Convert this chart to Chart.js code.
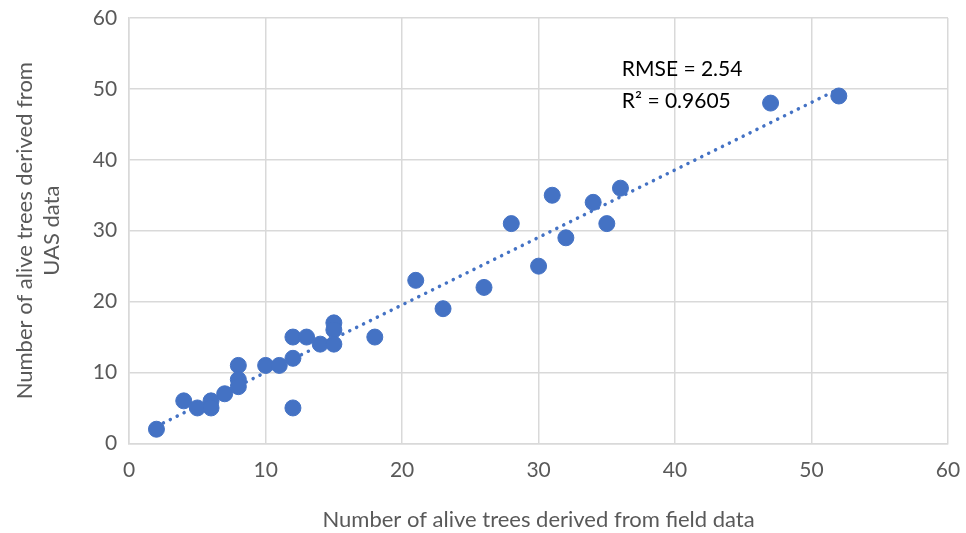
<!DOCTYPE html>
<html>
<head>
<meta charset="utf-8">
<script src="https://cdn.jsdelivr.net/npm/chart.js@4.4.1/dist/chart.umd.min.js"></script>
<style>
  html, body { margin: 0; padding: 0; background: #fff; }
  #wrap { width: 966px; height: 533px; }
</style>
</head>
<body>
<div id="wrap"><canvas id="myChart" width="966" height="533"></canvas></div>
<script>
// field counts (x) vs UAS counts (y)
const fieldCounts = [2, 4, 5, 6, 6, 7, 8, 8, 8, 10, 11, 12, 12, 12, 13, 14, 15, 15, 15, 18, 21, 23, 26, 28, 30, 31, 32, 34, 35, 36, 47, 52];
const uasCounts   = [2, 6, 5, 6, 5, 7, 11, 9, 8, 11, 11, 15, 12, 5, 15, 14, 17, 16, 14, 15, 23, 19, 22, 31, 25, 35, 29, 34, 31, 36, 48, 49];

// trendline end points
const trendX = [2, 52];
const trendY = [2.4, 50];

const statsLines = ["RMSE = 2.54", "R\u00B2 = 0.9605"];
const statsPos = { x: 36.1, y: [52.8, 48.3] };

const axisTicks = [0, 10, 20, 30, 40, 50, 60];

const blue = "#4472C4";
const fontFam = "Lato, 'Open Sans', sans-serif";

// 텍스트 주석 플러그인
const statsText = {
  id: "statsText",
  afterDatasetsDraw(chart) {
    const { ctx, scales } = chart;
    ctx.save();
    ctx.fillStyle = "#000";
    ctx.font = "21px " + fontFam;
    ctx.textBaseline = "middle";
    statsLines.forEach((t, i) => {
      ctx.fillText(t, scales.x.getPixelForValue(statsPos.x), scales.y.getPixelForValue(statsPos.y[i]));
    });
    ctx.restore();
  },
};

const ctx = document.getElementById("myChart").getContext("2d");
const myChart = new Chart(ctx, {
  type: "scatter",
  data: {
    datasets: [
      {
        label: "Trees",
        data: fieldCounts.map((x, i) => ({ x: x, y: uasCounts[i] })),
        backgroundColor: blue,
        borderColor: blue,
        pointRadius: 8,
        pointHoverRadius: 8,
        order: 1,
      },
      {
        label: "Linear",
        type: "line",
        data: trendX.map((x, i) => ({ x: x, y: trendY[i] })),
        borderColor: blue,
        borderWidth: 3.5,
        borderDash: [0.1, 7.6],
        borderCapStyle: "round",
        pointRadius: 0,
        fill: false,
        order: 2,
      },
    ],
  },
  options: {
    responsive: false,
    animation: false,
    layout: { padding: { top: 18, right: 18, left: 12, bottom: 0 } },
    plugins: {
      legend: { display: false },
      tooltip: { enabled: false },
    },
    scales: {
      x: {
        type: "linear",
        min: 0,
        max: 60,
        afterBuildTicks: (s) => { s.ticks = axisTicks.map((v) => ({ value: v })); },
        afterFit: (s) => { s.paddingRight = 0; s.paddingLeft = 0; },
        grid: { color: "#d9d9d9", lineWidth: 1.5, drawTicks: false },
        border: { color: "#d9d9d9", width: 1.5 },
        ticks: { color: "#595959", font: { family: fontFam, size: 21 }, padding: 14 },
        title: {
          display: true,
          text: "Number of alive trees derived from field data",
          color: "#595959",
          font: { family: fontFam, size: 22 },
          padding: { top: 10, bottom: 0 },
        },
      },
      y: {
        type: "linear",
        min: 0,
        max: 60,
        afterBuildTicks: (s) => { s.ticks = axisTicks.map((v) => ({ value: v })); },
        afterFit: (s) => { s.paddingTop = 0; s.paddingBottom = 0; },
        grid: { color: "#d9d9d9", lineWidth: 1.5, drawTicks: false },
        border: { color: "#d9d9d9", width: 1.5 },
        ticks: { color: "#595959", font: { family: fontFam, size: 21 }, padding: 12 },
        title: {
          display: true,
          text: ["Number of alive trees derived from", "UAS data"],
          color: "#595959",
          font: { family: fontFam, size: 22, lineHeight: 1.2 },
          padding: { top: 0, bottom: 16 },
        },
      },
    },
  },
  plugins: [statsText],
});
</script>
</body>
</html>
